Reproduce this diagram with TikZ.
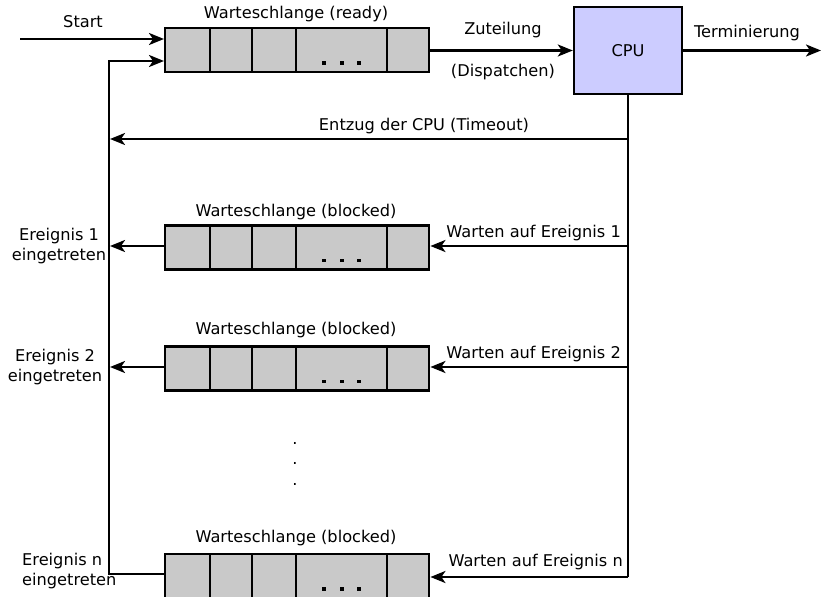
\documentclass[tikz,border=0pt]{standalone}
\usepackage{fontspec}
\setmainfont{DejaVu Sans}
\usetikzlibrary{arrows.meta}
\begin{document}
\begin{tikzpicture}[x=1pt,y=-1pt,
  line/.style={line width=2.4pt},
  arr/.style={line width=2.4pt,-{Stealth[length=15pt,width=12pt,inset=4pt]}},
  cell/.style={draw,line width=2.4pt,fill=black!21,minimum height=44pt,inner sep=0pt,anchor=west},
  lbl/.style={font=\fontsize{16.2}{19.5}\selectfont,inner sep=0pt},
  qdot/.style={fill=black,inner sep=0pt,minimum size=3.6pt,rectangle},
  cpubox/.style={draw,line width=2.4pt,fill=blue!20!white,minimum width=108pt,minimum height=87pt,inner sep=0pt}]
\useasboundingbox (0,0) rectangle (822,597);
\newcommand{\myqueue}[2]{%
  \node[cell,minimum width=45pt] (#1a) at (164,#2) {};
  \node[cell,minimum width=42pt] (#1b) at (209,#2) {};
  \node[cell,minimum width=44pt] (#1c) at (251,#2) {};
  \node[cell,minimum width=91pt] (#1d) at (295,#2) {};
  \node[cell,minimum width=42pt] (#1e) at (386,#2) {};
  \node[qdot] (#1dotA) at ([xshift=-17.5pt,yshift=-13pt]#1d.center) {};
  \node[qdot] (#1dotB) at ([yshift=-13pt]#1d.center) {};
  \node[qdot] (#1dotC) at ([xshift=17.5pt,yshift=-13pt]#1d.center) {};
}
\myqueue{r}{50}
\myqueue{p}{247.5}
\myqueue{q}{368.5}
\myqueue{n}{576}
\node[lbl] (tr) at (296,14) {Warteschlange (ready)};
\node[lbl] (tp) at (296,212) {Warteschlange (blocked)};
\node[lbl] (tq) at (296,330) {Warteschlange (blocked)};
\node[lbl] (tn) at (296,538) {Warteschlange (blocked)};

\node[cpubox] (cpu) at (628,50.5) {\fontsize{16.2}{19}\selectfont CPU};

% start
\coordinate (s0) at (20,39);
\coordinate (s1) at (164,39);
\draw[arr] (s0) -- (s1);
\node[lbl] (start) at (83,22) {Start};

% Zuteilung
\draw[arr] (re.east |- cpu.west) -- (cpu.west);
\node[lbl] (zu) at (503,30) {Zuteilung};
\node[lbl] (di) at (503,72) {(Dispatchen)};

% Terminierung
\coordinate (t1) at (821,50.5);
\draw[arr] (cpu.east) -- (t1);
\node[lbl] (term) at (747,33) {Terminierung};

% CPU down line
\coordinate (cb) at (628,577);
\draw[line] (cpu.south) -- (cb);

% Entzug
\coordinate (ez) at (628,139);
\coordinate (ezl) at (110,139);
\draw[arr] (ez) -- (ezl);
\node[lbl] (entzug) at (424,126) {Entzug der CPU (Timeout)};

% left vertical return
\coordinate (lt) at (109,61);
\coordinate (lb) at (109,574);
\draw[arr] (na.west |- lb) -- (lb) -- (lt) -- (ra.west |- lt);

% wait arrows
\coordinate (w1) at (628,246);
\coordinate (w2) at (628,367);
\draw[arr] (w1) -- (pe.east |- w1);
\draw[arr] (w2) -- (qe.east |- w2);
\draw[arr] (cb) -- (ne.east |- cb);
\node[lbl,anchor=east] (wt1) at (621,233) {Warten auf Ereignis 1};
\node[lbl,anchor=east] (wt2) at (621,354) {Warten auf Ereignis 2};
\node[lbl,anchor=east] (wtn) at (623,562) {Warten auf Ereignis n};

% event arrows to left
\coordinate (e1) at (110,246);
\coordinate (e2) at (110,367);
\draw[arr] (pa.west |- e1) -- (e1);
\draw[arr] (qa.west |- e2) -- (e2);
\node[lbl,align=center] (ev1) at (59,246) {Ereignis 1\\eingetreten};
\node[lbl,align=center] (ev2) at (55,367) {Ereignis 2\\eingetreten};
\node[lbl,align=left,anchor=west] (evn) at (22,571) {Ereignis n\\eingetreten};

% dots
\node[lbl] (d1) at (295,443) {.};
\node[lbl] (d2) at (295,463) {.};
\node[lbl] (d3) at (295,484) {.};
\end{tikzpicture}
\end{document}
